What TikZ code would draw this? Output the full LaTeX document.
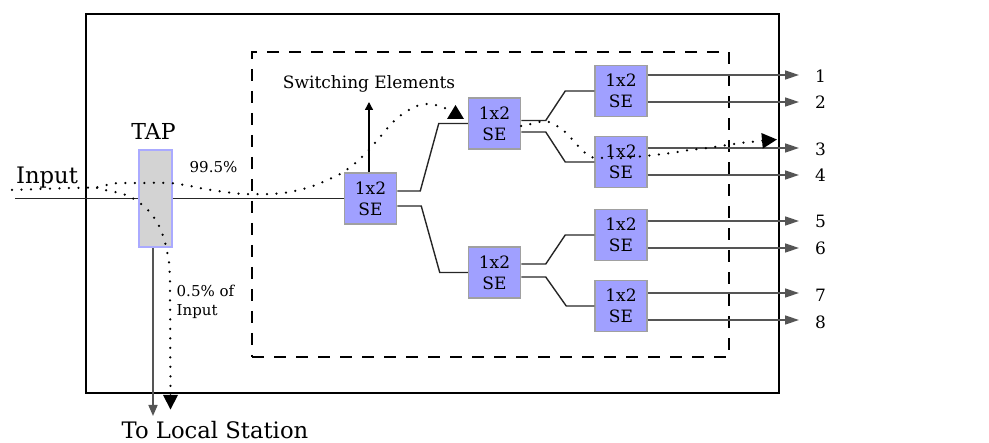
\documentclass[tikz,border=0pt]{standalone}
\usepackage{fontspec}
\setmainfont{DejaVu Serif}
\usetikzlibrary{arrows.meta,calc}

\definecolor{sefill}{RGB}{160,160,255}
\definecolor{seborder}{RGB}{160,160,160}
\definecolor{tapfill}{RGB}{211,211,211}
\definecolor{tapborder}{RGB}{170,170,255}
\definecolor{outgray}{RGB}{85,85,85}

\begin{document}
\begin{tikzpicture}[x=1pt,y=-1pt,
  sebox/.style={draw=seborder, fill=sefill, line width=1.5pt,
    minimum width=52pt, minimum height=51pt, inner sep=0pt,
    align=center, font=\fontsize{17}{21}\selectfont},
  wire/.style={line width=1.4pt, black!85},
  outarrow/.style={line width=1.6pt, outgray, -{Triangle[length=14pt,width=9pt]}},
  flow/.style={line width=2.5pt, line cap=round, dash pattern=on 0pt off 9.5pt},
  lbl/.style={font=\fontsize{17}{20}\selectfont, inner sep=0pt},
  smalllbl/.style={font=\fontsize{15}{18.5}\selectfont, inner sep=0pt},
  biglbl/.style={font=\fontsize{22.7}{27}\selectfont, inner sep=0pt}]

\useasboundingbox (0,0) rectangle (989,443);

% enclosure and switching fabric boundary
\node[draw, line width=2.2pt, minimum width=693pt, minimum height=379pt, inner sep=0pt]
  (frame) at (432.5,203.5) {};
\node[draw, line width=1.6pt, dash pattern=on 12pt off 10pt,
  minimum width=477pt, minimum height=305pt, inner sep=0pt]
  (fabric) at (490.5,204.5) {};

% tap
\node[draw=tapborder, fill=tapfill, line width=2pt, minimum width=33pt,
  minimum height=97pt, inner sep=0pt] (tap) at (155,198.5) {};
\node[font=\fontsize{22}{26}\selectfont, inner sep=0pt] (taplbl) at (153.5,131) {TAP};

% switching elements
\node[sebox] (se1) at (370.5,198.5) {1x2\\SE};
\node[sebox] (se2) at (494.5,123.5) {1x2\\SE};
\node[sebox] (se3) at (494.5,272.5) {1x2\\SE};
\node[sebox] (se4) at (621,91) {1x2\\SE};
\node[sebox] (se5) at (621,162) {1x2\\SE};
\node[sebox] (se6) at (621,235) {1x2\\SE};
\node[sebox] (se7) at (621,306) {1x2\\SE};

% labels
\node[biglbl] (inlbl) at (47,177.5) {Input};
\node[biglbl] (loclbl) at (215,430) {To Local Station};
\node[lbl] (swlbl) at (369,84) {Switching Elements};
\node[smalllbl] (passlbl) at (213.5,167.5) {99.5\%};
\node[smalllbl, align=left, anchor=west] (droplbl) at (176.5,302) {0.5\% of\\Input};

% port numbers and arrow ends
\coordinate (t1) at (799,75);
\coordinate (t2) at (799,102);
\coordinate (t3) at (799,148);
\coordinate (t4) at (799,175);
\coordinate (t5) at (799,221);
\coordinate (t6) at (799,248);
\coordinate (t7) at (799,293);
\coordinate (t8) at (799,320);
\foreach \i/\yy in {1/76,2/102.5,3/149,4/175.5,5/221,6/248,7/295,8/322}
  \node[lbl, anchor=west] (n\i) at (815,\yy) {\i};

% input fibre
\coordinate (inpt) at (15,198.5);
\draw[wire] (inpt) -- (tap.west);
\draw[wire] (tap.east) -- (se1.west);

% drop to local station
\coordinate (loc) at (153,416);
\draw[line width=1.6pt, outgray, -{Triangle[length=11pt,width=9pt]}]
  (tap.south -| loc) -- (loc);

% pointer to the switching elements label
\coordinate (swtip) at (369,102);
\draw[wire, black, -{Triangle[length=8pt,width=8pt]}] (se1.north -| swtip) -- (swtip);

% links between stages
\draw[wire] ($(se1.east)+(0,-7.5)$) -- ++(23,0) -- ($(se2.west)+(-29,0)$) -- (se2.west);
\draw[wire] ($(se1.east)+(0,7.5)$) -- ++(24,0) -- ($(se3.west)+(-28,0)$) -- (se3.west);
\draw[wire] ($(se2.east)+(0,-3)$) -- ++(24.5,0) -- ($(se4.west)+(-29,0)$) -- (se4.west);
\draw[wire] ($(se2.east)+(0,8.5)$) -- ++(24.5,0) -- ($(se5.west)+(-29,0)$) -- (se5.west);
\draw[wire] ($(se3.east)+(0,-8.5)$) -- ++(24.5,0) -- ($(se6.west)+(-29,0)$) -- (se6.west);
\draw[wire] ($(se3.east)+(0,4.5)$) -- ++(24.5,0) -- ($(se7.west)+(-28,0)$) -- (se7.west);

% output ports
\draw[outarrow] (se4.east |- t1) -- (t1);
\draw[outarrow] (se4.east |- t2) -- (t2);
\draw[outarrow] (se5.east |- t3) -- (t3);
\draw[outarrow] (se5.east |- t4) -- (t4);
\draw[outarrow] (se6.east |- t5) -- (t5);
\draw[outarrow] (se6.east |- t6) -- (t6);
\draw[outarrow] (se7.east |- t7) -- (t7);
\draw[outarrow] (se7.east |- t8) -- (t8);

% signal flow: through path
\draw[flow] plot[smooth, tension=0.55] coordinates {
  (12,190) (40,189) (70,188) (100,187) (112,183.5) (140,183) (168,183)
  (185,185) (205,189) (225,192) (245,194) (270,194) (290,192) (310,187)
  (325,181) (340,174) (353,165) (367,152) (380,137) (392,123) (404,113)
  (417,106) (430,104) (442,107) (449,110)};
\fill (447,119) -- (455.5,105) -- (464,119) -- cycle;

% signal flow: tapped part
\draw[flow] plot[smooth, tension=0.55] coordinates {
  (97,188) (105,190) (115,192) (123,194) (132,198) (140,203) (147,209)
  (153,216) (158,224) (162,233) (165,242) (167,251) (169,262) (170,280)}
  -- (170.5,396);
\fill (163,395) -- (178,395) -- (170.5,409.5) -- cycle;

% signal flow: routed to port 3
\draw[flow, -{Triangle[length=15pt,width=15pt]}] plot[smooth, tension=0.55] coordinates {
  (521,126) (533,123.5) (545,121) (553,124) (562,129) (570,137) (582,150)
  (591,157) (605,158) (625,158) (645,156) (663,154) (677,152) (690,150)
  (707,148) (727,145) (745,142.5) (777,139.5)};

\end{tikzpicture}
\end{document}
